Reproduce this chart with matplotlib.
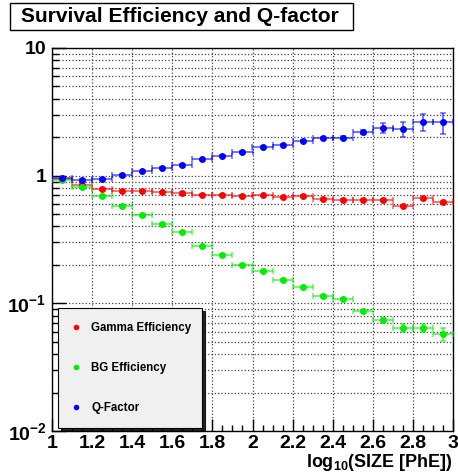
import matplotlib
matplotlib.use('Agg')
import matplotlib.pyplot as plt
from matplotlib.patches import Rectangle
from matplotlib.ticker import MultipleLocator, LogLocator, NullFormatter

plt.rcParams.update({
    'font.family': ['Liberation Sans', 'DejaVu Sans'],
    'font.weight': 'bold',
    'mathtext.fontset': 'custom',
    'mathtext.rm': 'Liberation Sans:bold',
    'mathtext.bf': 'Liberation Sans:bold',
    'mathtext.it': 'Liberation Sans:bold',
})

# bin centres in log10(SIZE)
x = [1.05, 1.15, 1.25, 1.35, 1.45, 1.55, 1.65, 1.75, 1.85, 1.95,
     2.05, 2.15, 2.25, 2.35, 2.45, 2.55, 2.65, 2.75, 2.85, 2.95]
x_half = 0.05

gamma_eff = [0.94, 0.85, 0.78, 0.76, 0.76, 0.74, 0.73, 0.71, 0.71, 0.69,
             0.70, 0.68, 0.69, 0.66, 0.65, 0.65, 0.645, 0.58, 0.665, 0.62]
gamma_err = [0.01, 0.01, 0.01, 0.01, 0.01, 0.01, 0.01, 0.01, 0.01, 0.01,
             0.01, 0.01, 0.01, 0.01, 0.01, 0.01, 0.012, 0.012, 0.015, 0.015]

bg_eff = [0.93, 0.815, 0.69, 0.575, 0.49, 0.42, 0.36, 0.28, 0.24, 0.20,
          0.179, 0.152, 0.135, 0.114, 0.108, 0.087, 0.074, 0.064, 0.064, 0.0575]
bg_err = [0.01, 0.01, 0.008, 0.006, 0.005, 0.004, 0.004, 0.003, 0.003, 0.003,
          0.003, 0.002, 0.002, 0.002, 0.002, 0.002, 0.003, 0.0045, 0.0045, 0.007]

q_factor = [0.965, 0.925, 0.937, 1.01, 1.08, 1.14, 1.21, 1.34, 1.43, 1.54,
            1.69, 1.75, 1.87, 1.96, 1.99, 2.21, 2.38, 2.31, 2.65, 2.62]
q_err = [0.01, 0.01, 0.01, 0.015, 0.015, 0.02, 0.02, 0.02, 0.025, 0.03,
         0.03, 0.03, 0.035, 0.04, 0.05, 0.08, 0.22, 0.30, 0.40, 0.50]

C_GAMMA = '#ff0000'
C_BG = '#00ee00'
C_Q = '#0000ff'

fig = plt.figure(figsize=(4.58, 4.73), dpi=100)
ax = fig.add_axes([52 / 458, 1 - 431 / 473, 401 / 458, 383 / 473])

series = [
    (gamma_eff, gamma_err, C_GAMMA, 'Gamma Efficiency'),
    (bg_eff, bg_err, C_BG, 'BG Efficiency'),
    (q_factor, q_err, C_Q, 'Q-Factor'),
]
handles = []
for vals, errs, col, lab in series:
    ax.errorbar(x, vals, xerr=x_half, yerr=errs, fmt='none', ecolor=col,
                elinewidth=1.3, capsize=2, capthick=1.1, alpha=0.6, zorder=3)
    h, = ax.plot(x, vals, 'o', color=col, ms=5, mew=0, label=lab, zorder=4)
    handles.append(h)

ax.set_yscale('log')
ax.set_xlim(1.0, 3.0)
ax.set_ylim(0.01, 10)

ax.xaxis.set_minor_locator(MultipleLocator(0.05))
ax.set_xticks([1.0, 1.2, 1.4, 1.6, 1.8, 2.0, 2.2, 2.4, 2.6, 2.8, 3.0])
ax.set_xticklabels(['1', '1.2', '1.4', '1.6', '1.8', '2', '2.2', '2.4', '2.6', '2.8', '3'])
ax.set_yticks([0.01, 0.1, 1, 10])
ax.set_yticklabels([r'$10^{-2}$', r'$10^{-1}$', '1', '10'])
ax.yaxis.set_minor_locator(LogLocator(base=10, subs=range(2, 10), numticks=20))
ax.yaxis.set_minor_formatter(NullFormatter())

ax.tick_params(axis='both', which='both', direction='in', top=False, right=False,
               labelsize=14, colors='black', width=1)
ax.tick_params(axis='y', which='major', length=10, pad=4)
ax.tick_params(axis='y', which='minor', length=5)
ax.tick_params(axis='x', which='major', length=9, pad=3)
ax.tick_params(axis='x', which='minor', length=4.5)

ax.grid(True, which='major', axis='x', ls=':', color='#444444', lw=0.9)
ax.grid(True, which='both', axis='y', ls=':', color='#444444', lw=0.9)
ax.set_axisbelow(True)
for sp in ax.spines.values():
    sp.set_linewidth(1.0)
    sp.set_color('black')

ax.set_xlabel(r'log$_{10}$(SIZE [PhE])', fontsize=13, fontweight='bold')
ax.xaxis.set_label_coords(1.0, -0.055)
ax.xaxis.label.set_horizontalalignment('right')

leg = ax.legend(handles=handles, loc='lower left',
                bbox_to_anchor=(0.015, 0.008, 0.359, 0.308), mode='expand',
                fontsize=8.3, frameon=True, fancybox=False, handlelength=0.8,
                handletextpad=0.9, labelspacing=2.45, borderpad=1.2,
                borderaxespad=0, markerscale=0.8,
                shadow={'color': 'black', 'alpha': 0.85})
leg.get_frame().set_facecolor('#f0f0f0')
leg.get_frame().set_edgecolor('black')
leg.get_frame().set_linewidth(0.8)
leg.get_frame().set_alpha(1.0)

# title box
fig.patches.append(Rectangle((10 / 458, 1 - 30 / 473), 343 / 458, 27 / 473,
                             transform=fig.transFigure, fill=True,
                             facecolor='white', edgecolor='black', lw=1.0))
fig.text(21 / 458, 1 - 17 / 473, 'Survival Efficiency and Q-factor',
         fontsize=15.1, fontweight='bold', va='center', ha='left')

fig.savefig('out.png', dpi=100)
